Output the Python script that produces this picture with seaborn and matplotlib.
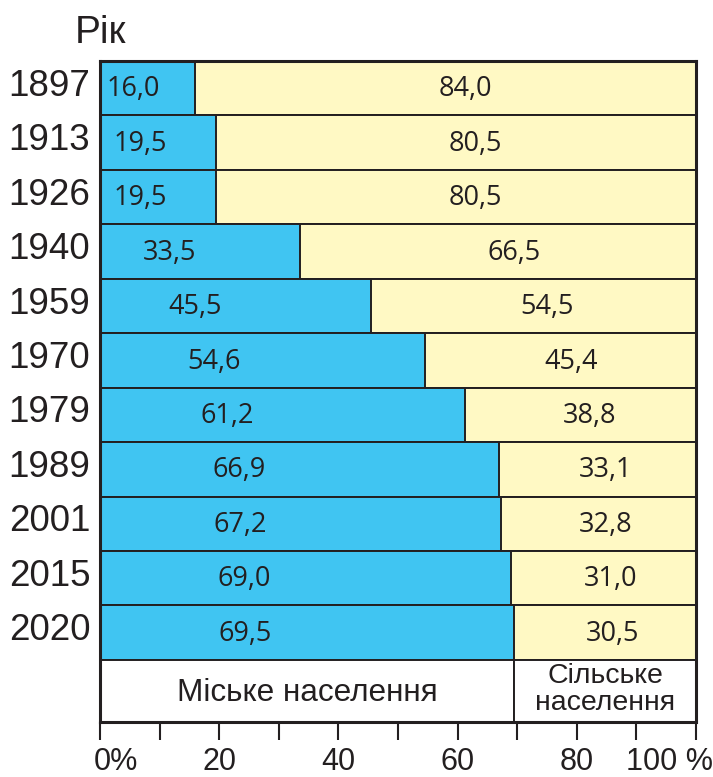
import numpy as np
import pandas as pd
import seaborn as sns
import matplotlib.pyplot as plt
from matplotlib import transforms

years = ['1897', '1913', '1926', '1940', '1959', '1970', '1979', '1989', '2001', '2015', '2020']
urban = [16.0, 19.5, 19.5, 33.5, 45.5, 54.6, 61.2, 66.9, 67.2, 69.0, 69.5]
rural = [84.0, 80.5, 80.5, 66.5, 54.5, 45.4, 38.8, 33.1, 32.8, 31.0, 30.5]
xtick_labels = ['0%', '20', '40', '60', '80', '100 %']
legend_urban = 'Міське населення'
legend_rural = 'Сільське\nнаселення'

blue = '#40C5F2'
yellow = '#FFF9C4'
dark = '#231F20'

sns.set_style('white')
plt.rcParams['font.family'] = ['Liberation Sans', 'DejaVu Sans']

df = pd.DataFrame({'year': years, 'urban': urban, 'rural': rural})
df['total'] = df['urban'] + df['rural']

fig = plt.figure(figsize=(7.13, 7.77), dpi=100)
ax = fig.add_axes([100 / 713, 1 - 722 / 777, 596 / 713, 661 / 777])

# yellow full bar, blue urban part on top
sns.barplot(data=df, x='total', y='year', orient='h', color=yellow, saturation=1,
            width=1.0, edgecolor=dark, linewidth=1.4, ax=ax)
sns.barplot(data=df, x='urban', y='year', orient='h', color=blue, saturation=1,
            width=1.0, edgecolor=dark, linewidth=1.4, ax=ax)

# legend row under the bars
leg_y, leg_h = 11.07, 1.14
ax.barh(leg_y, urban[-1], height=leg_h, color='white', edgecolor=dark, linewidth=1.4)
ax.barh(leg_y, 100 - urban[-1], left=urban[-1], height=leg_h, color='white',
        edgecolor=dark, linewidth=1.4)
ax.text(urban[-1] / 2, leg_y + 0.03, legend_urban, ha='center', va='center', fontsize=22.7, color=dark)
ax.text((urban[-1] + 100) / 2, leg_y - 0.02, legend_rural, ha='center', va='center', fontsize=20.5,
        color=dark, linespacing=1.05)

for i, (u, r) in enumerate(zip(urban, rural)):
    ax.text(u * 0.35, i + 0.02, f'{u:.1f}'.replace('.', ','), ha='center', va='center',
            fontsize=19.5, family='Open Sans', color=dark)
    ax.text(100 - r * 0.46, i + 0.02, f'{r:.1f}'.replace('.', ','), ha='center', va='center',
            fontsize=19.5, family='Open Sans', color=dark)

ax.set_xlim(0, 100)
ax.set_ylim(leg_y + leg_h / 2, -0.5)
ax.set_xlabel('')
ax.set_ylabel('')

ax.set_xticks([0, 20, 40, 60, 80, 100])
ax.set_xticklabels(xtick_labels, fontsize=22, color=dark)
ax.set_xticks([10, 30, 50, 70, 90], minor=True)
ax.tick_params(axis='x', which='both', direction='out', length=13, width=1.5, color=dark,
               pad=5, bottom=True)
ax.tick_params(axis='y', length=0, pad=7, labelsize=26.5, labelcolor=dark)

labels = ax.get_xticklabels()
labels[0].set_transform(labels[0].get_transform() + transforms.ScaledTranslation(0.16, 0, fig.dpi_scale_trans))
labels[-1].set_transform(labels[-1].get_transform() + transforms.ScaledTranslation(-0.27, 0, fig.dpi_scale_trans))

# year labels sit a little above the middle of each row
for lab in ax.get_yticklabels():
    lab.set_transform(lab.get_transform() + transforms.ScaledTranslation(0, 0.06, fig.dpi_scale_trans))

for s in ax.spines.values():
    s.set_visible(True)
    s.set_linewidth(2.2)
    s.set_color(dark)

fig.text(101 / 713, 1 - 33 / 777, 'Рік', ha='center', va='center', fontsize=28, color=dark)

fig.savefig('out.png', dpi=100)
